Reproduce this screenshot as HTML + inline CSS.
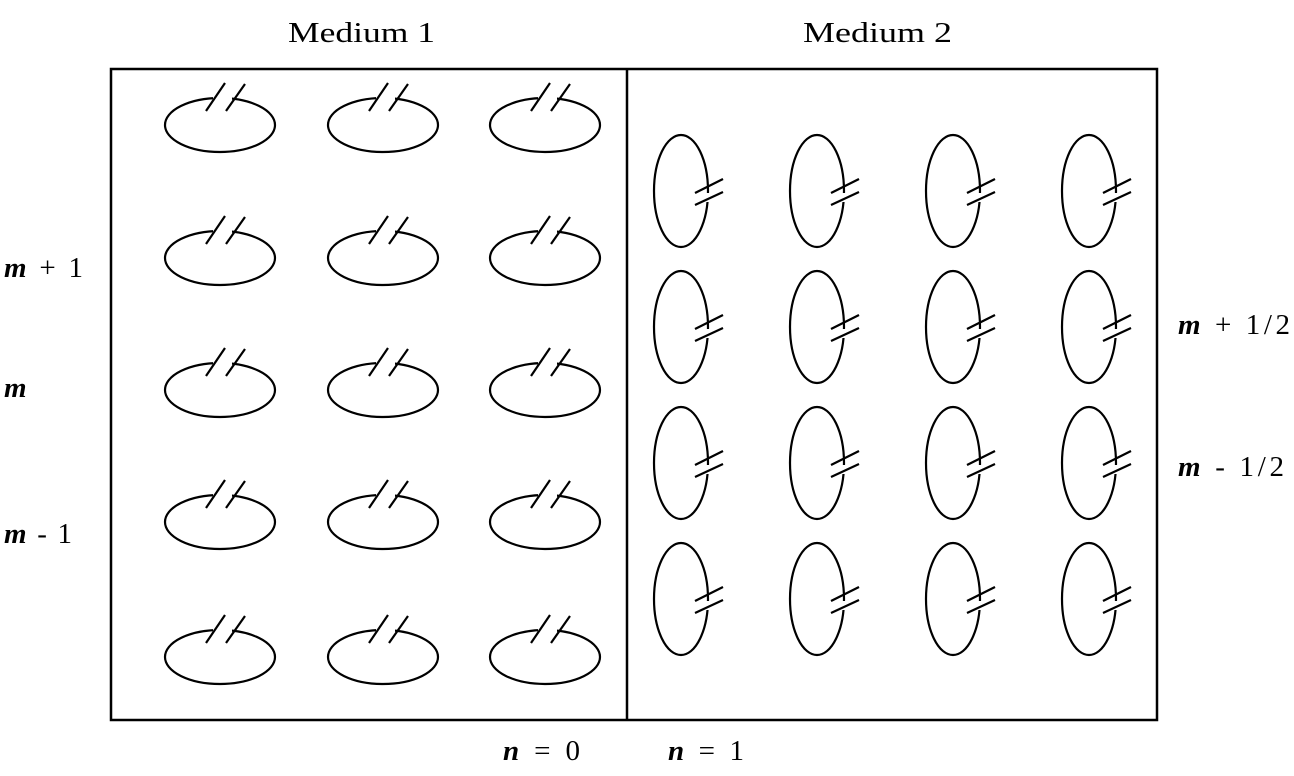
<!DOCTYPE html>
<html><head><meta charset="utf-8"><style>
body{margin:0;background:#fff}
svg{display:block}
text{font-family:"Liberation Serif",serif;font-size:29px;fill:#000}
</style></head><body>
<svg width="1294" height="776" viewBox="0 0 1294 776">
<defs>
<g id="h" fill="none" stroke="#000" stroke-width="2.2">
<ellipse cx="0" cy="0" rx="55" ry="27"/>
<rect x="-7" y="-31" width="19" height="8" fill="#fff" stroke="none"/>
<line x1="-14" y1="-14" x2="5" y2="-42"/>
<line x1="6" y1="-14" x2="25" y2="-41"/>
</g>
<g id="v" fill="none" stroke="#000" stroke-width="2.2">
<ellipse cx="0" cy="0" rx="27" ry="56"/>
<rect x="21" y="2" width="12" height="9" fill="#fff" stroke="none"/>
<line x1="14" y1="2" x2="42" y2="-12"/>
<line x1="14" y1="14" x2="42" y2="1"/>
</g>
</defs>
<rect x="111" y="69" width="1046" height="651" fill="none" stroke="#000" stroke-width="2.5"/>
<line x1="627" y1="69" x2="627" y2="720" stroke="#000" stroke-width="2.5"/>
<text x="288" y="42" textLength="147" lengthAdjust="spacingAndGlyphs">Medium 1</text>
<text x="803" y="42" textLength="149" lengthAdjust="spacingAndGlyphs">Medium 2</text>
<text x="4" y="277" textLength="79" lengthAdjust="spacing"><tspan font-style="italic" font-weight="bold">m</tspan> + 1</text>
<text x="4" y="397" font-style="italic" font-weight="bold">m</text>
<text x="4" y="543" textLength="68" lengthAdjust="spacing"><tspan font-style="italic" font-weight="bold">m</tspan> - 1</text>
<text x="1178" y="334" textLength="112" lengthAdjust="spacing"><tspan font-style="italic" font-weight="bold">m</tspan> + 1/2</text>
<text x="1178" y="476" textLength="106" lengthAdjust="spacing"><tspan font-style="italic" font-weight="bold">m</tspan> - 1/2</text>
<text x="503" y="760" textLength="77" lengthAdjust="spacing"><tspan font-style="italic" font-weight="bold">n</tspan> = 0</text>
<text x="668" y="760" textLength="76" lengthAdjust="spacing"><tspan font-style="italic" font-weight="bold">n</tspan> = 1</text>
<use href="#h" x="220" y="125"/><use href="#h" x="383" y="125"/><use href="#h" x="545" y="125"/>
<use href="#h" x="220" y="258"/><use href="#h" x="383" y="258"/><use href="#h" x="545" y="258"/>
<use href="#h" x="220" y="390"/><use href="#h" x="383" y="390"/><use href="#h" x="545" y="390"/>
<use href="#h" x="220" y="522"/><use href="#h" x="383" y="522"/><use href="#h" x="545" y="522"/>
<use href="#h" x="220" y="657"/><use href="#h" x="383" y="657"/><use href="#h" x="545" y="657"/>
<use href="#v" x="681" y="191"/><use href="#v" x="817" y="191"/><use href="#v" x="953" y="191"/><use href="#v" x="1089" y="191"/>
<use href="#v" x="681" y="327"/><use href="#v" x="817" y="327"/><use href="#v" x="953" y="327"/><use href="#v" x="1089" y="327"/>
<use href="#v" x="681" y="463"/><use href="#v" x="817" y="463"/><use href="#v" x="953" y="463"/><use href="#v" x="1089" y="463"/>
<use href="#v" x="681" y="599"/><use href="#v" x="817" y="599"/><use href="#v" x="953" y="599"/><use href="#v" x="1089" y="599"/>
</svg>
</body></html>
